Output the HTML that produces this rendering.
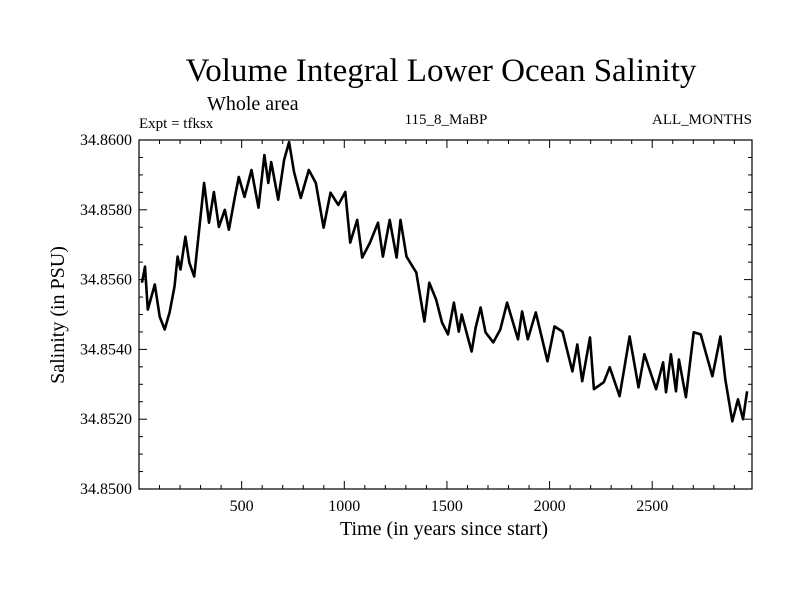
<!DOCTYPE html>
<html><head><meta charset="utf-8"><style>
body{margin:0;background:#fff;}
svg text{font-family:"Liberation Serif",serif;fill:#000;}
</style></head><body>
<svg id="chart" width="800" height="600" xmlns="http://www.w3.org/2000/svg">
<text x="441" y="81" font-size="33" text-anchor="middle">Volume Integral Lower Ocean Salinity</text>
<text x="207" y="110" font-size="20">Whole area</text>
<text x="139" y="128" font-size="15">Expt = tfksx</text>
<text x="446" y="124" font-size="15" text-anchor="middle">115_8_MaBP</text>
<text x="752" y="124" font-size="15" text-anchor="end">ALL_MONTHS</text>
<text x="444" y="535" font-size="20" text-anchor="middle">Time (in years since start)</text>
<text transform="translate(64,315) rotate(-90)" font-size="20" text-anchor="middle">Salinity (in PSU)</text>
<g id="axes"></g>
<rect x="139" y="140" width="613" height="349" fill="none" stroke="#000" stroke-width="1.2"/>
</svg>
<script>
const years=[14,29,43,77,101,125,149,173,188,202,226,245,269,298,317,341,365,389,418,438,466,486,514,548,582,611,630,644,678,707,731,755,788,827,861,899,933,971,1005,1029,1063,1087,1125,1164,1188,1221,1255,1274,1303,1351,1390,1414,1447,1476,1505,1534,1558,1572,1620,1640,1664,1688,1726,1760,1793,1846,1866,1894,1933,1990,2024,2063,2111,2135,2159,2197,2216,2264,2293,2341,2390,2433,2462,2519,2553,2567,2591,2616,2630,2664,2702,2736,2793,2832,2856,2890,2918,2942,2962];
const salinity=[34.85591,34.85637,34.85514,34.85586,34.85494,34.85457,34.85506,34.85580,34.85666,34.85629,34.85723,34.85649,34.85609,34.85771,34.85877,34.85763,34.85851,34.85751,34.85800,34.85743,34.85834,34.85894,34.85837,34.85914,34.85806,34.85957,34.85877,34.85937,34.85829,34.85943,34.85994,34.85909,34.85834,34.85914,34.85877,34.85749,34.85849,34.85814,34.85851,34.85706,34.85771,34.85663,34.85706,34.85763,34.85666,34.85771,34.85663,34.85771,34.85666,34.85620,34.85480,34.85591,34.85543,34.85477,34.85443,34.85534,34.85451,34.85500,34.85394,34.85463,34.85520,34.85449,34.85420,34.85457,34.85534,34.85429,34.85509,34.85429,34.85506,34.85366,34.85466,34.85451,34.85337,34.85414,34.85309,34.85434,34.85286,34.85306,34.85349,34.85266,34.85437,34.85291,34.85386,34.85286,34.85363,34.85277,34.85386,34.85280,34.85371,34.85263,34.85449,34.85443,34.85323,34.85437,34.85314,34.85194,34.85257,34.85200,34.85280];
const xTickLabels=[500,1000,1500,2000,2500];
const yTickLabels=["34.8500","34.8520","34.8540","34.8560","34.8580","34.8600"];
const xDomain=[0,2986], yDomain=[34.85,34.86];
const L=139,R=752,T=140,B=489;
const sx=v=>L+(v-xDomain[0])/(xDomain[1]-xDomain[0])*(R-L);
const sy=v=>B-(v-yDomain[0])/(yDomain[1]-yDomain[0])*(B-T);
const NS="http://www.w3.org/2000/svg";
const g=document.getElementById('axes');
function mk(t,a){const e=document.createElementNS(NS,t);for(const k in a)e.setAttribute(k,a[k]);g.appendChild(e);return e;}
for(let y=100;y<xDomain[1];y+=100){
  const x=sx(y),maj=y%500===0,len=maj?8:4;
  const t1=mk('line',{x1:x,x2:x,y1:B,y2:B-len,stroke:'#000','stroke-width':1});
  
  
  const t2=mk('line',{x1:x,x2:x,y1:T,y2:T+len,stroke:'#000','stroke-width':1});
  
  
}
xTickLabels.forEach(v=>{
  const t=mk('text',{x:sx(v),y:B+22,'font-size':16,'text-anchor':'middle'});
  t.textContent=v;
  
  
});
for(let i=0;i<=20;i++){
  const v=yDomain[0]+i*0.0005,y=sy(v),maj=i%4===0,len=maj?8:4;
  const t1=mk('line',{x1:L,x2:L+len,y1:y,y2:y,stroke:'#000','stroke-width':1});
  
  
  const t2=mk('line',{x1:R,x2:R-len,y1:y,y2:y,stroke:'#000','stroke-width':1});
  
  
}
yTickLabels.forEach(s=>{
  const t=mk('text',{x:L-7,y:sy(parseFloat(s))+5,'font-size':16,'text-anchor':'end'});
  t.textContent=s;
  
  
});
const d=years.map((yr,i)=>(i?'L':'M')+sx(yr).toFixed(1)+','+sy(salinity[i]).toFixed(1)).join('');
const p=mk('path',{d:d,fill:'none',stroke:'#000','stroke-width':2.6,'stroke-linejoin':'round'});


</script>
</body></html>
